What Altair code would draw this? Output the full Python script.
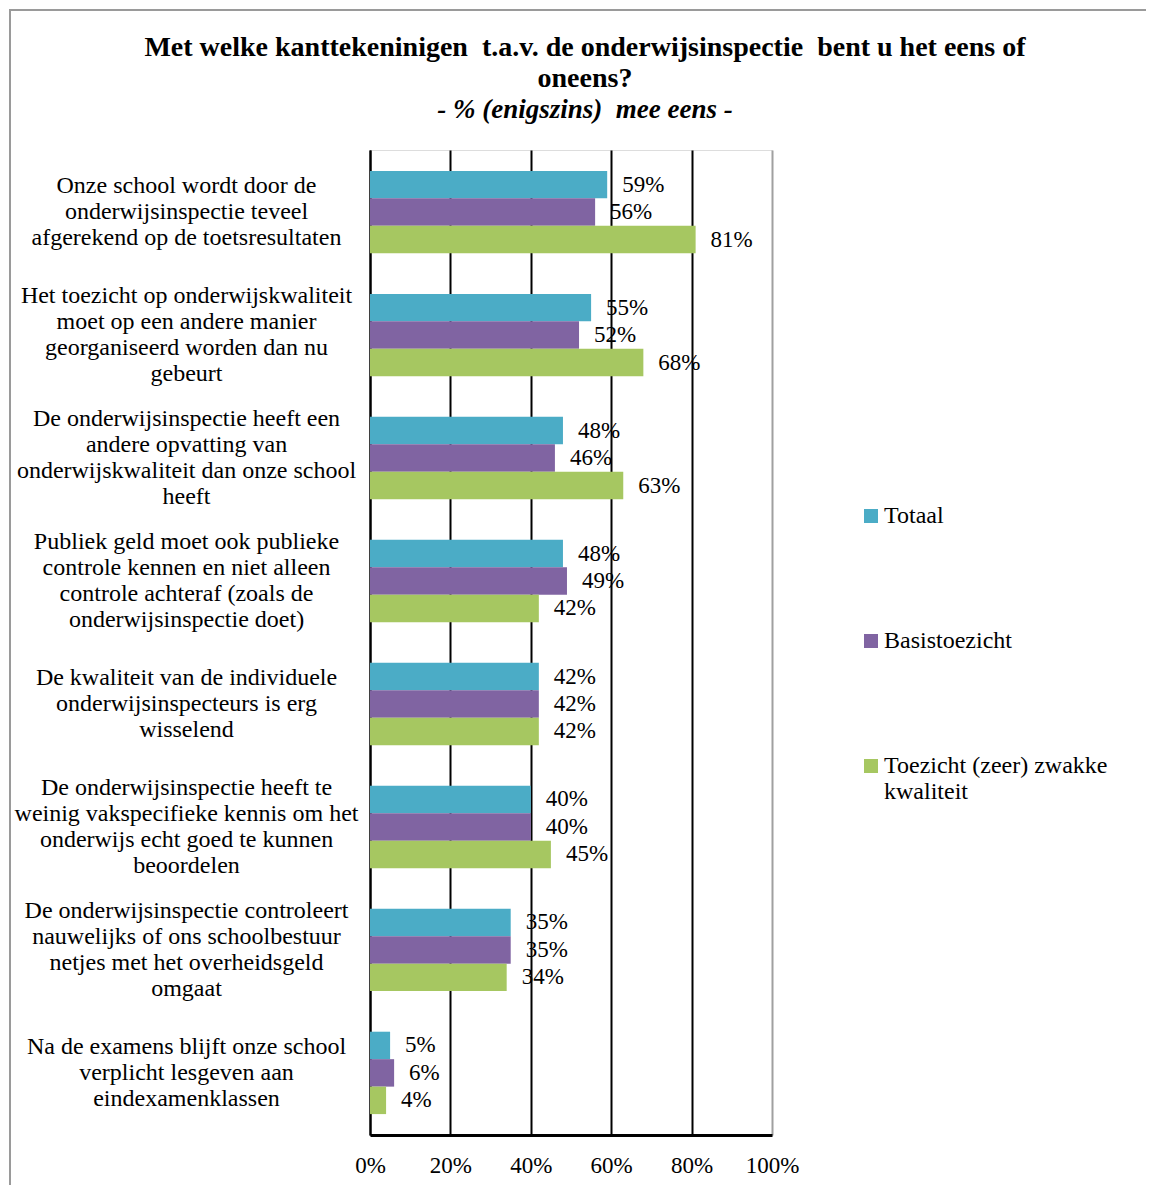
import altair as alt
import pandas as pd

categories = [
    "Onze school wordt door de|onderwijsinspectie teveel|afgerekend op de toetsresultaten",
    "Het toezicht op onderwijskwaliteit|moet op een andere manier|georganiseerd worden dan nu|gebeurt",
    "De onderwijsinspectie heeft een|andere opvatting van|onderwijskwaliteit dan onze school|heeft",
    "Publiek geld moet ook publieke|controle kennen en niet alleen|controle achteraf (zoals de|onderwijsinspectie doet)",
    "De kwaliteit van de individuele|onderwijsinspecteurs is erg|wisselend",
    "De onderwijsinspectie heeft te|weinig vakspecifieke kennis om het|onderwijs echt goed te kunnen|beoordelen",
    "De onderwijsinspectie controleert|nauwelijks of ons schoolbestuur|netjes met het overheidsgeld|omgaat",
    "Na de examens blijft onze school|verplicht lesgeven aan|eindexamenklassen",
]
series = ["Totaal", "Basistoezicht", "Toezicht (zeer) zwakke kwaliteit"]
totaal = [59, 55, 48, 48, 42, 40, 35, 5]
basistoezicht = [56, 52, 46, 49, 42, 40, 35, 6]
zwak = [81, 68, 63, 42, 42, 45, 34, 4]
colors = ["#4BACC6", "#8064A2", "#A6C761"]
x_ticks = [0, 20, 40, 60, 80, 100]
title_lines = ["Met welke kanttekeninigen \u00a0t.a.v. de onderwijsinspectie \u00a0bent u het eens of", "oneens?"]
subtitle = "- % (enigszins) \u00a0mee eens -"

rows = []
for i, c in enumerate(categories):
    for s, vals in zip(series, [totaal, basistoezicht, zwak]):
        rows.append({"cat": c, "serie": s, "value": vals[i], "label": f"{vals[i]}%"})
df = pd.DataFrame(rows)

FONT = "Liberation Serif"
LH = 26

y = alt.Y(
    "cat:N", sort=categories, title=None,
    scale=alt.Scale(paddingInner=0.33, paddingOuter=0.17),
    axis=alt.Axis(
        labelExpr="split(datum.label, '|')", labelAlign="center", labelBaseline="middle",
        labelOffset={"condition": {"test": "length(split(datum.label, '|')) >= 4", "value": -1.5 * LH},
                     "value": -1.0 * LH},
        labelPadding=184, labelLimit=400, labelFontSize=24, labelLineHeight=LH,
        labelFont=FONT, labelColor="black", ticks=False, domainColor="black",
        domainWidth=2, grid=False,
    ),
)
x = alt.X(
    "value:Q", title=None, scale=alt.Scale(domain=[0, 100]),
    axis=alt.Axis(
        values=x_ticks, labelExpr="datum.value + '%'", grid=True, labelFlush=False,
        gridColor={"condition": {"test": "datum.value >= 100", "value": "#a0a0a0"}, "value": "black"},
        gridWidth=2, ticks=False, domainColor="black", domainWidth=3,
        labelPadding=19, labelFontSize=23, labelFont=FONT, labelColor="black",
    ),
)
yoff = alt.YOffset("serie:N", sort=series, scale=alt.Scale(paddingInner=0, paddingOuter=0))
color = alt.Color(
    "serie:N", sort=series, scale=alt.Scale(domain=series, range=colors),
    legend=alt.Legend(
        title=None, orient="none", legendX=489, legendY=354, direction="vertical",
        symbolType="square", symbolSize=196, symbolStrokeWidth=0, labelFont=FONT,
        labelFontSize=24, labelColor="black", rowPadding=101, labelOffset=1, labelLimit=400,
        labelExpr="datum.label == 'Toezicht (zeer) zwakke kwaliteit' ? ['Toezicht (zeer) zwakke', 'kwaliteit'] : datum.label",
    ),
)

bars = alt.Chart(df).mark_bar().encode(x=x, y=y, yOffset=yoff, color=color)
labels = alt.Chart(df).mark_text(
    align="left", baseline="middle", dx=15, fontSize=23, font=FONT, color="black"
).encode(x="value:Q", y=alt.Y("cat:N", sort=categories), yOffset=alt.YOffset("serie:N", sort=series), text="label:N")

one = pd.DataFrame({"a": [0]})
frame = alt.Chart(one).mark_rect(
    fillOpacity=0, stroke="#9a9a9a", strokeWidth=2
).encode(x=alt.value(-360), x2=alt.value(1000), y=alt.value(-140), y2=alt.value(1100))

title1 = alt.Chart(one).mark_text(
    text=title_lines, font=FONT, fontSize=28, fontWeight="bold", color="black",
    align="center", baseline="middle", lineHeight=31,
).encode(x=alt.value(215), y=alt.value(-102))
title2 = alt.Chart(one).mark_text(
    text=subtitle, font=FONT, fontSize=27, fontWeight="bold", fontStyle="italic",
    color="black", align="center", baseline="middle",
).encode(x=alt.value(215), y=alt.value(-40))

chart = alt.layer(frame, bars, labels, title1, title2).properties(
    width=402, height=985,
    autosize=alt.AutoSizeParams(type="none"),
    padding={"left": 362, "top": 142, "right": 374, "bottom": 50},
).configure_view(stroke="#a0a0a0", strokeWidth=2).configure(background="white")

chart.save("out.html", embed_options={"renderer": "svg", "actions": False})
